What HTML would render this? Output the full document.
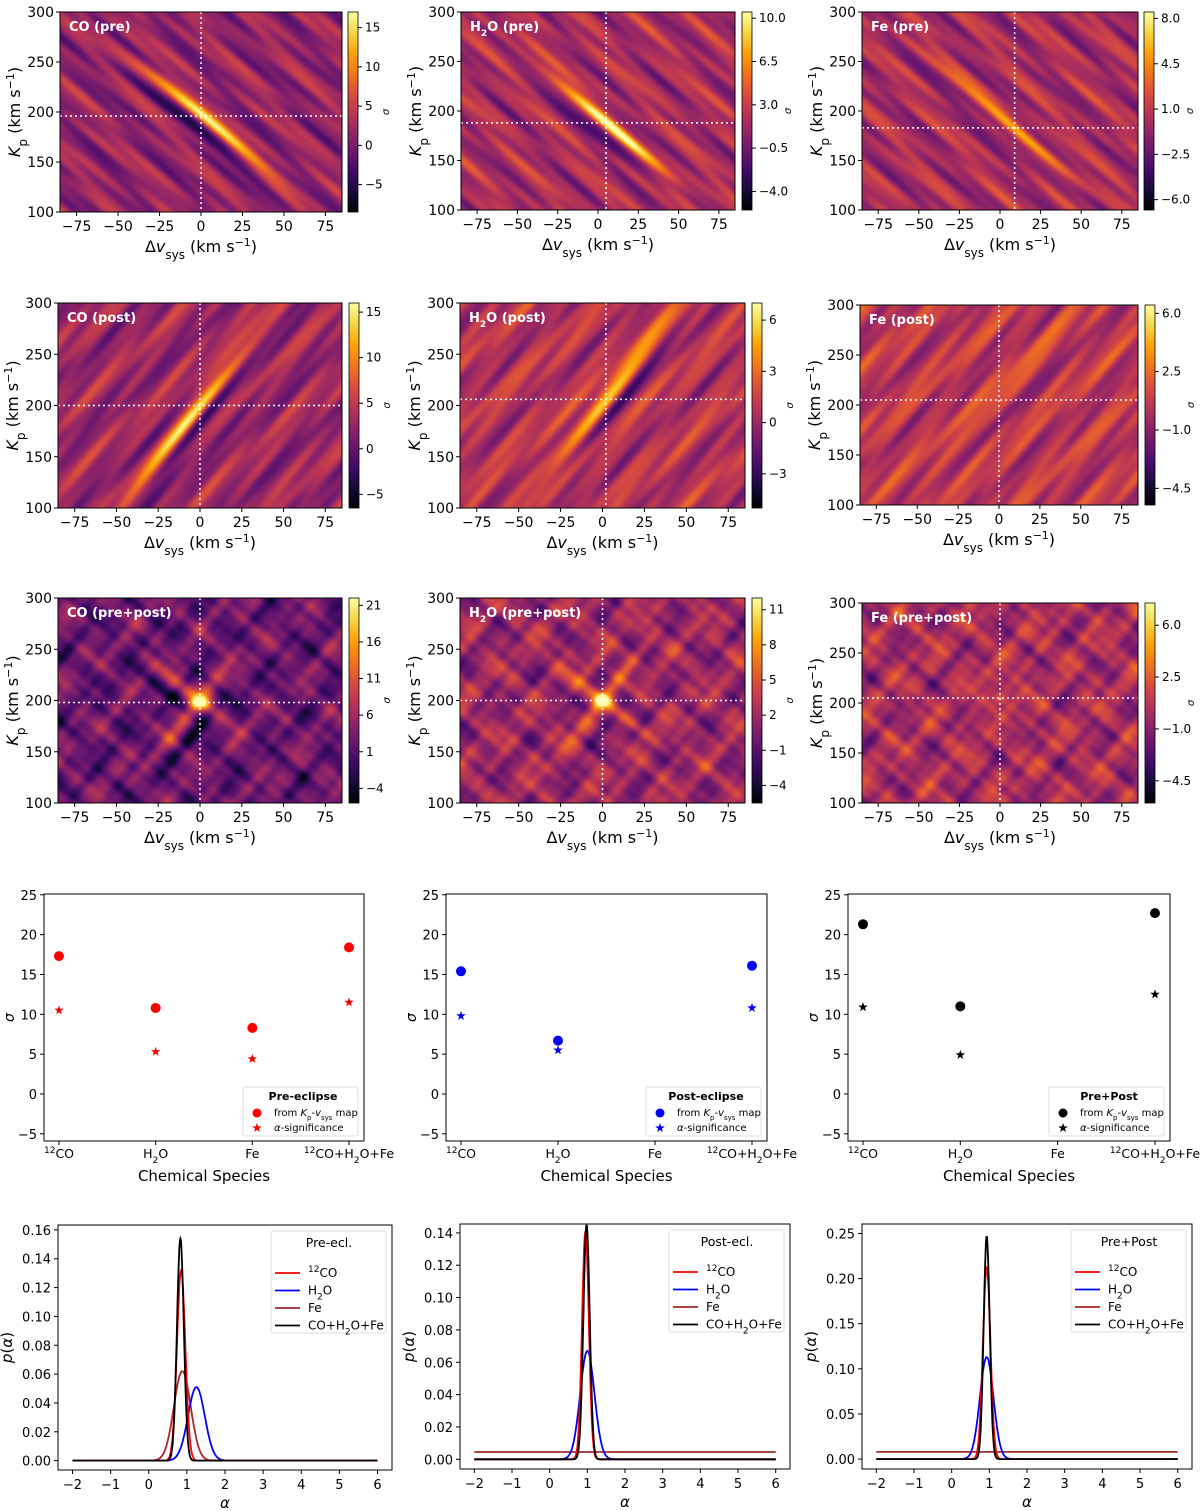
<!DOCTYPE html>
<html><head><meta charset="utf-8">
<style>
body{margin:0;background:#fff;width:1200px;height:1511px;position:relative;overflow:hidden;font-family:"DejaVu Sans","Liberation Sans",sans-serif}
canvas{position:absolute}
#main{position:absolute;left:0;top:0}
</style></head>
<body>
<div id="maps"></div>
<svg id="main" width="1200" height="1511" xmlns="http://www.w3.org/2000/svg"></svg>
<script>
// ---------- data ----------
const mapLabels=['CO (pre)','H2O (pre)','Fe (pre)','CO (post)','H2O (post)','Fe (post)','CO (pre+post)','H2O (pre+post)','Fe (pre+post)'];
const mapPeakV=[0,5,9,0,2,0,0,0,0];
const mapPeakK=[196,188,183,200,206,205,198,200,205];
const mapPeakAmp=[1,0.85,0.6,1,0.8,0.3,1,0.9,0.35];
const mapDirs=[[1],[1],[1],[-1],[-1],[-1],[1,-1],[1,-1],[1,-1]];
const mapBase=[0.4,0.45,0.45,0.42,0.48,0.5,0.3,0.42,0.45];
const cbMin=[-8.5,-5.5,-6.8,-6.5,-5,-5.5,-6,-5.5,-6];
const cbMax=[17,10.5,8.5,16,7,6.5,22,12,7.5];
const cbTicks=[[15,10,5,0,-5],[10.0,6.5,3.0,-0.5,-4.0],[8.0,4.5,1.0,-2.5,-6.0],[15,10,5,0,-5],[6,3,0,-3],[6.0,2.5,-1.0,-4.5],[21,16,11,6,1,-4],[11,8,5,2,-1,-4],[6.0,2.5,-1.0,-4.5]];
const cbDecimals=[0,1,1,0,0,1,0,0,1];
const vTicks=[-75,-50,-25,0,25,50,75];
const kTicks=[100,150,200,250,300];

const species=['12CO','H2O','Fe','12CO+H2O+Fe'];
const sigMap=[[17.3,10.8,8.3,18.4],[15.4,6.7,null,16.1],[21.3,11.0,null,22.7]];
const sigAlpha=[[10.5,5.3,4.4,11.5],[9.8,5.5,null,10.8],[10.9,4.9,null,12.5]];
const sigTicks=[-5,0,5,10,15,20,25];

const postMean=[[0.85,1.25,0.88,0.83],[0.95,1.0,null,0.98],[0.93,0.93,null,0.93]];
const postSig=[[0.11,0.22,0.22,0.09],[0.09,0.19,null,0.085],[0.1,0.18,null,0.08]];
const postPeak=[[0.132,0.051,0.062,0.154],[0.141,0.067,0.0045,0.145],[0.212,0.113,0.008,0.247]];
const postYTicks=[[0,0.02,0.04,0.06,0.08,0.10,0.12,0.14,0.16],[0,0.02,0.04,0.06,0.08,0.10,0.12,0.14],[0,0.05,0.10,0.15,0.20,0.25]];
const postYMax=[0.1634,0.1455,0.2605];
const postYMin=[-0.0065,-0.0060,-0.0110];
const alphaTicks=[-2,-1,0,1,2,3,4,5,6];

// ---------- layout ----------
const mapBox=[
 [60,12,282,200,348],[461,12,274,198,742],[862,12,276,198,1144],
 [58,303,284,205,349],[460,303,285,205,752],[860,305,278,200,1145],
 [58,598,284,205,349],[460,598,285,205,752],[862,603,276,200,1145]];
const scBox=[[44,894,320,247],[446,894,321,247],[848,894,322,247]];
const gBox=[[58,1225,334,245],[460,1224,330,245],[862,1224,330,245]];

const svg=document.getElementById('main');
let out='';
const infer=[[0,0,4],[22,11,57],[66,10,104],[106,23,110],[147,38,103],[188,55,84],[221,81,58],[243,120,25],[252,165,10],[246,215,70],[252,255,164]];
function cmap(t){t=Math.max(0,Math.min(1,t));const s=t*10,i=Math.min(9,Math.floor(s)),f=s-i;const a=infer[i],b=infer[i+1];return [a[0]+(b[0]-a[0])*f,a[1]+(b[1]-a[1])*f,a[2]+(b[2]-a[2])*f];}
function fmt(v){return (v<0?'\u2212':'')+Math.abs(v);}
function fmtd(v,d){return (v<0?'\u2212':'')+Math.abs(v).toFixed(d);}
function lab(s){
 return s.replace(/12CO/g,'<tspan baseline-shift="super" font-size="9">12</tspan>CO').replace(/H2O/g,'H<tspan baseline-shift="sub" font-size="9">2</tspan>O');
}
const mapsDiv=document.getElementById('maps');
mapBox.forEach((b,i)=>{
 const [x,y,w,h,cbx]=b;
 const vmin=-85,vmax=85,kmin=100,kmax=300;
 const sx=v=>x+(v-vmin)/(vmax-vmin)*w, sy=k=>y+h-(k-kmin)/(kmax-kmin)*h;
 const c=document.createElement('canvas');
 const N=140,M=100;c.width=N;c.height=M;
 c.style.left=x+'px';c.style.top=y+'px';c.style.width=w+'px';c.style.height=h+'px';
 
 
 mapsDiv.appendChild(c);
 const ctx=c.getContext('2d'),img=ctx.createImageData(N,M);
 const vc=mapPeakV[i],kc=mapPeakK[i],A=mapPeakAmp[i],dirs=mapDirs[i];
 const both=dirs.length>1;
 for(let py=0;py<M;py++)for(let px=0;px<N;px++){
  const v=vmin+(px+0.5)/N*(vmax-vmin),k=kmax-(py+0.5)/M*(kmax-kmin);
  let val=mapBase[i];
  dirs.forEach(d=>{
   const s=d>0?1.35:2.0;
   const u=((k-kc)+d*s*(v-vc))/Math.sqrt(1+s*s)*1.4,wv=((v-vc)*s-d*(k-kc))/Math.sqrt(1+s*s);
   const amp=both?0.055:0.07;
   val+=amp*(Math.sin(u*0.13+i*1.3+wv*0.03)+0.8*Math.sin(u*0.21+i*2.1-wv*0.04)+0.6*Math.sin(u*0.31+i*0.7+wv*0.05)+0.4*Math.sin(u*0.47+i));
   const ws=both?30:50;
   const env=Math.exp(-wv*wv/(2*ws*ws));
   val+=A*(both?0.3:0.55)*env*(Math.exp(-u*u/50)-0.45*Math.exp(-(u+12)*(u+12)/60));
  });
  if(both){const r2=(v-vc)*(v-vc)+(k-kc)*(k-kc);val+=A*0.4*Math.exp(-r2/30);}
  const col=cmap(val),o=(py*N+px)*4;
  img.data[o]=col[0];img.data[o+1]=col[1];img.data[o+2]=col[2];img.data[o+3]=255;
 }
 ctx.putImageData(img,0,0);
 out+=`<g>`;
 out+=`<line x1="${sx(vc)}" y1="${y}" x2="${sx(vc)}" y2="${y+h}" stroke="#fff" stroke-width="1.5" stroke-dasharray="2,3"/>`;
 out+=`<line x1="${x}" y1="${sy(kc)}" x2="${x+w}" y2="${sy(kc)}" stroke="#fff" stroke-width="1.5" stroke-dasharray="2,3"/>`;
 out+=`<rect x="${x}" y="${y}" width="${w}" height="${h}" fill="none" stroke="#000" stroke-width="1"/>`;
 out+=`<text x="${x+9}" y="${y+19}" fill="#fff" font-weight="bold" font-size="13">${lab(mapLabels[i])}</text>`;
 vTicks.forEach(t=>{out+=`<line x1="${sx(t)}" y1="${y+h}" x2="${sx(t)}" y2="${y+h+4}" stroke="#000"/><text x="${sx(t)}" y="${y+h+19}" font-size="14" text-anchor="middle">${fmt(t)}</text>`;});
 kTicks.forEach(t=>{out+=`<line x1="${x-4}" y1="${sy(t)}" x2="${x}" y2="${sy(t)}" stroke="#000"/><text x="${x-6}" y="${sy(t)+5}" font-size="14" text-anchor="end">${t}</text>`;});
 out+=`<text x="${x+w/2}" y="${y+h+40}" font-size="16" text-anchor="middle">Δ<tspan font-style="italic">v</tspan><tspan baseline-shift="sub" font-size="12">sys</tspan> (km s<tspan baseline-shift="super" font-size="11">−1</tspan>)</text>`;
 out+=`<text transform="translate(${x-40},${y+h/2}) rotate(-90)" font-size="16" text-anchor="middle"><tspan font-style="italic">K</tspan><tspan baseline-shift="sub" font-size="12">p</tspan> (km s<tspan baseline-shift="super" font-size="11">−1</tspan>)</text>`;
 const cmn=cbMin[i],cmx=cbMax[i],cy=v=>y+h-(v-cmn)/(cmx-cmn)*h;
 let stops='';for(let s=10;s>=0;s--){const cc=cmap(s/10);stops+=`<stop offset="${(10-s)/10}" stop-color="rgb(${cc.map(Math.round).join(',')})"/>`;}
 out+=`<defs><linearGradient id="g${i}" x1="0" y1="0" x2="0" y2="1">${stops}</linearGradient></defs>`;
 out+=`<rect x="${cbx}" y="${y}" width="10" height="${h}" fill="url(#g${i})" stroke="#000" stroke-width="0.8"/>`;
 cbTicks[i].forEach(t=>{out+=`<line x1="${cbx+10}" y1="${cy(t)}" x2="${cbx+14}" y2="${cy(t)}" stroke="#000"/><text x="${cbx+17}" y="${cy(t)+4}" font-size="12">${fmtd(t,cbDecimals[i])}</text>`;});
 out+=`<text transform="translate(${cbx+(cbDecimals[i]?49:41)},${y+h/2}) rotate(-90)" font-size="10" font-style="italic" text-anchor="middle">σ</text>`;
 out+='</g>';
});
const scColors=['#ff0000','#0000ff','#000000'];
const scTitles=['Pre-eclipse','Post-eclipse','Pre+Post'];
function star(cx,cy,r){let p='';for(let k=0;k<10;k++){const a=-Math.PI/2+k*Math.PI/5,rr=k%2?r*0.4:r;p+=(k?'L':'M')+(cx+rr*Math.cos(a)).toFixed(1)+','+(cy+rr*Math.sin(a)).toFixed(1);}return p+'Z';}
scBox.forEach((b,j)=>{
 const [x,y,w,h]=b,col=scColors[j];
 const ymin=-5.9,ymax=25.1,sy=v=>y+h-(v-ymin)/(ymax-ymin)*h;
 const pad=15,sx=k=>x+pad+k*(w-2*pad)/3;
 out+=`<g><rect x="${x}" y="${y}" width="${w}" height="${h}" fill="none" stroke="#000"/>`;
 sigTicks.forEach(t=>{out+=`<line x1="${x-4}" y1="${sy(t)}" x2="${x}" y2="${sy(t)}" stroke="#000"/><text x="${x-7}" y="${sy(t)+5}" font-size="13" text-anchor="end">${fmt(t)}</text>`;});
 species.forEach((s,k)=>{out+=`<line x1="${sx(k)}" y1="${y+h}" x2="${sx(k)}" y2="${y+h+4}" stroke="#000"/><text x="${sx(k)}" y="${y+h+17}" font-size="12.5" text-anchor="middle">${lab(s)}</text>`;});
 out+=`<text x="${x+w/2}" y="${y+h+40}" font-size="15" text-anchor="middle">Chemical Species</text>`;
 out+=`<text transform="translate(${x-30},${y+h/2}) rotate(-90)" font-size="14" font-style="italic" text-anchor="middle">σ</text>`;
 sigMap[j].forEach((v,k)=>{if(v!=null)out+=`<circle cx="${sx(k)}" cy="${sy(v)}" r="5" fill="${col}"/>`;});
 sigAlpha[j].forEach((v,k)=>{if(v!=null)out+=`<path d="${star(sx(k),sy(v),5)}" fill="${col}"/>`;});
 const lx=x+w-121,ly=y+h-54;
 out+=`<g><rect x="${lx}" y="${ly}" width="115" height="49" fill="#fff" stroke="#ddd" rx="2"/>`;
 out+=`<text x="${lx+60}" y="${ly+13}" font-size="11" font-weight="bold" text-anchor="middle">${scTitles[j]}</text>`;
 out+=`<circle cx="${lx+14}" cy="${ly+26}" r="4.5" fill="${col}"/><text x="${lx+31}" y="${ly+29}" font-size="10">from <tspan font-style="italic">K</tspan><tspan baseline-shift="sub" font-size="7">p</tspan>-<tspan font-style="italic">v</tspan><tspan baseline-shift="sub" font-size="7">sys</tspan> map</text>`;
 out+=`<path d="${star(lx+14,ly+41,5)}" fill="${col}"/><text x="${lx+31}" y="${ly+44}" font-size="10"><tspan font-style="italic">α</tspan>-significance</text></g></g>`;
});
const gColors=['#ff0000','#0000ff','#a52a2a','#000000'];
const gTitles=['Pre-ecl.','Post-ecl.','Pre+Post'];
const gNames=['12CO','H2O','Fe','CO+H2O+Fe'];
gBox.forEach((b,j)=>{
 const [x,y,w,h]=b;
 const amin=-2.38,amax=6.38,sx=a=>x+(a-amin)/(amax-amin)*w;
 const ymn=postYMin[j],ymx=postYMax[j],sy=v=>y+h-(v-ymn)/(ymx-ymn)*h;
 out+=`<g><rect x="${x}" y="${y}" width="${w}" height="${h}" fill="none" stroke="#000"/>`;
 postYTicks[j].forEach(t=>{out+=`<line x1="${x-4}" y1="${sy(t)}" x2="${x}" y2="${sy(t)}" stroke="#000"/><text x="${x-7}" y="${sy(t)+5}" font-size="13" text-anchor="end">${t.toFixed(2)}</text>`;});
 alphaTicks.forEach(t=>{out+=`<line x1="${sx(t)}" y1="${y+h}" x2="${sx(t)}" y2="${y+h+4}" stroke="#000"/><text x="${sx(t)}" y="${y+h+19}" font-size="13" text-anchor="middle">${fmt(t)}</text>`;});
 out+=`<text x="${x+w/2}" y="${y+h+38}" font-size="15" font-style="italic" text-anchor="middle">α</text>`;
 out+=`<text transform="translate(${x-46},${y+h/2}) rotate(-90)" font-size="15" text-anchor="middle"><tspan font-style="italic">p</tspan>(<tspan font-style="italic">α</tspan>)</text>`;
 [2,1,0,3].forEach(s=>{
  const m=postMean[j][s],sg=postSig[j][s],pk=postPeak[j][s];
  let d='';
  for(let q=0;q<=800;q++){const a=-2+q*8/800;const v=m==null?pk:pk*Math.exp(-(a-m)*(a-m)/(2*sg*sg));d+=(q?'L':'M')+sx(a).toFixed(1)+','+sy(v).toFixed(1);}
  out+=`<path d="${d}" fill="none" stroke="${gColors[s]}" stroke-width="1.8"/>`;
 });
 const lx=x+w-121,ly=y+6;
 out+=`<g><rect x="${lx}" y="${ly}" width="115" height="102" fill="#fff" stroke="#ddd" rx="2"/><text x="${lx+58}" y="${ly+16}" font-size="12.5" text-anchor="middle">${gTitles[j]}</text>`;
 gNames.forEach((n,s)=>{const yy=ly+42+s*17.5;out+=`<line x1="${lx+4}" y1="${yy}" x2="${lx+29}" y2="${yy}" stroke="${gColors[s]}" stroke-width="1.8"/><text x="${lx+37}" y="${yy+4}" font-size="12">${lab(n)}</text>`;});
 out+='</g></g>';
});
svg.innerHTML=out;
</script>
</body></html>
